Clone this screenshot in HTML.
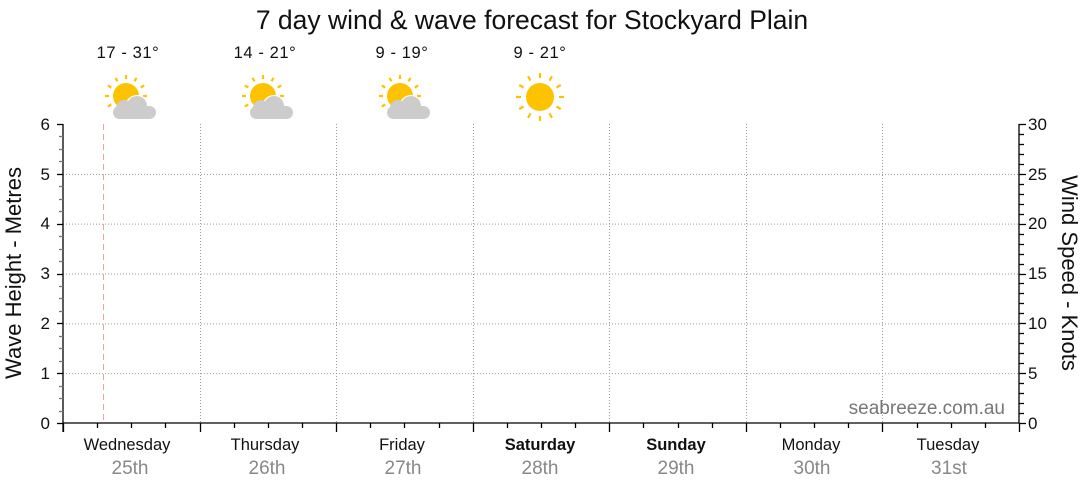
<!DOCTYPE html>
<html><head><meta charset="utf-8"><style>
html,body{margin:0;padding:0;background:#fff;}
svg{display:block;font-family:"Liberation Sans",sans-serif;}
</style></head><body>
<svg id="s" width="1080" height="490" viewBox="0 0 1080 490" xmlns="http://www.w3.org/2000/svg">
<text x="532" y="29" font-size="26.5" text-anchor="middle" fill="#111">7 day wind &amp; wave forecast for Stockyard Plain</text>
<g font-size="16.5" text-anchor="middle" fill="#111" letter-spacing="0.6">
<text x="128" y="58">17 - 31°</text>
<text x="265" y="58">14 - 21°</text>
<text x="402" y="58">9 - 19°</text>
<text x="540" y="58">9 - 21°</text>
</g>
<g id="grid" stroke="#999" stroke-width="1" stroke-dasharray="1,2" fill="none"></g>
<line x1="103.5" y1="124" x2="103.5" y2="423" stroke="#f2a0a0" stroke-dasharray="6,4"/>
<g id="axes" stroke="#000" stroke-width="1.3"></g>
<g id="icons"></g>
<g font-size="17" fill="#111" text-anchor="end">
<text x="50" y="429">0</text><text x="50" y="379">1</text><text x="50" y="329">2</text><text x="50" y="279">3</text><text x="50" y="229">4</text><text x="50" y="180">5</text><text x="50" y="130">6</text>
</g>
<g font-size="17" fill="#111" text-anchor="start">
<text x="1028" y="429">0</text><text x="1028" y="379">5</text><text x="1028" y="329">10</text><text x="1028" y="279">15</text><text x="1028" y="229">20</text><text x="1028" y="180">25</text><text x="1028" y="130">30</text>
</g>
<text transform="translate(21,273) rotate(-90)" font-size="22" text-anchor="middle" fill="#111">Wave Height - Metres</text>
<text transform="translate(1062,273) rotate(90)" font-size="22" text-anchor="middle" fill="#111">Wind Speed - Knots</text>
<text x="1005" y="414" font-size="19" text-anchor="end" fill="#777">seabreeze.com.au</text>
<g font-size="16.5" text-anchor="middle" fill="#111">
<text x="127" y="450">Wednesday</text><text x="265" y="450">Thursday</text><text x="402" y="450">Friday</text>
<text x="540" y="450" font-weight="bold">Saturday</text><text x="676" y="450" font-weight="bold">Sunday</text>
<text x="811" y="450">Monday</text><text x="948" y="450">Tuesday</text>
</g>
<g font-size="19" text-anchor="middle" fill="#888">
<text x="130" y="474">25th</text><text x="267" y="474">26th</text><text x="403" y="474">27th</text>
<text x="540" y="474">28th</text><text x="676" y="474">29th</text><text x="812" y="474">30th</text><text x="949" y="474">31st</text>
</g>
</svg>
<script>
const NS="http://www.w3.org/2000/svg";
function el(p,t,a){const e=document.createElementNS(NS,t);for(const k in a)e.setAttribute(k,a[k]);p.appendChild(e);return e;}
const g=document.getElementById('grid'),ax=document.getElementById('axes'),ic=document.getElementById('icons');
const L=63,R=1019,T=124,B=423,dw=(R-L)/7;
for(let i=1;i<6;i++){const y=B-i*(B-T)/6+0.5;el(g,'line',{x1:L,x2:R,y1:y,y2:y});}
for(let i=1;i<7;i++){const x=Math.round(L+i*dw)+0.5;el(g,'line',{x1:x,x2:x,y1:T,y2:B});}
el(ax,'line',{x1:L,x2:L,y1:T,y2:B+9});
el(ax,'line',{x1:R,x2:R,y1:T,y2:B});
el(ax,'line',{x1:L,x2:R,y1:B,y2:B});
for(let i=0;i<=28;i++){const x=Math.round(L+i*dw/4)+0.5;el(ax,'line',{x1:x,x2:x,y1:B,y2:B+(i%4==0?9:5)});}
for(let i=0;i<=24;i++){const y=Math.round(B-i*(B-T)/24)+0.5;el(ax,'line',{x1:L-(i%4==0?6:4),x2:L,y1:y,y2:y,stroke:i%4==0?'#000':'#777'});}
for(let i=0;i<=30;i++){const y=Math.round(B-i*(B-T)/30)+0.5;el(ax,'line',{x1:R,x2:R+(i%5==0?7:5),y1:y,y2:y});}
function sun(cx,cy,r,rr1,rr2){el(ic,'circle',{cx,cy,r,fill:'#fdc300'});
 for(let k=0;k<12;k++){const a=k*Math.PI/6;el(ic,'line',{x1:cx+rr1*Math.cos(a),y1:cy+rr1*Math.sin(a),x2:cx+rr2*Math.cos(a),y2:cy+rr2*Math.sin(a),stroke:'#fdc300','stroke-width':2.2});}}
function cloud(x,y){const c='#cccccc';
 el(ic,'circle',{cx:x+11,cy:y-5,r:12,fill:'#fff'});
 el(ic,'rect',{x:x-13,y:y-6,width:43,height:13,rx:6.5,fill:c});
 el(ic,'circle',{cx:x-2,cy:y-4,r:8,fill:c});
 el(ic,'circle',{cx:x+11,cy:y-6,r:10,fill:c});}
[126,263,400].forEach(cx=>{sun(cx,96,13,17,21);cloud(cx,112);});
sun(540,97,14,19,24);
</script>
</body></html>
